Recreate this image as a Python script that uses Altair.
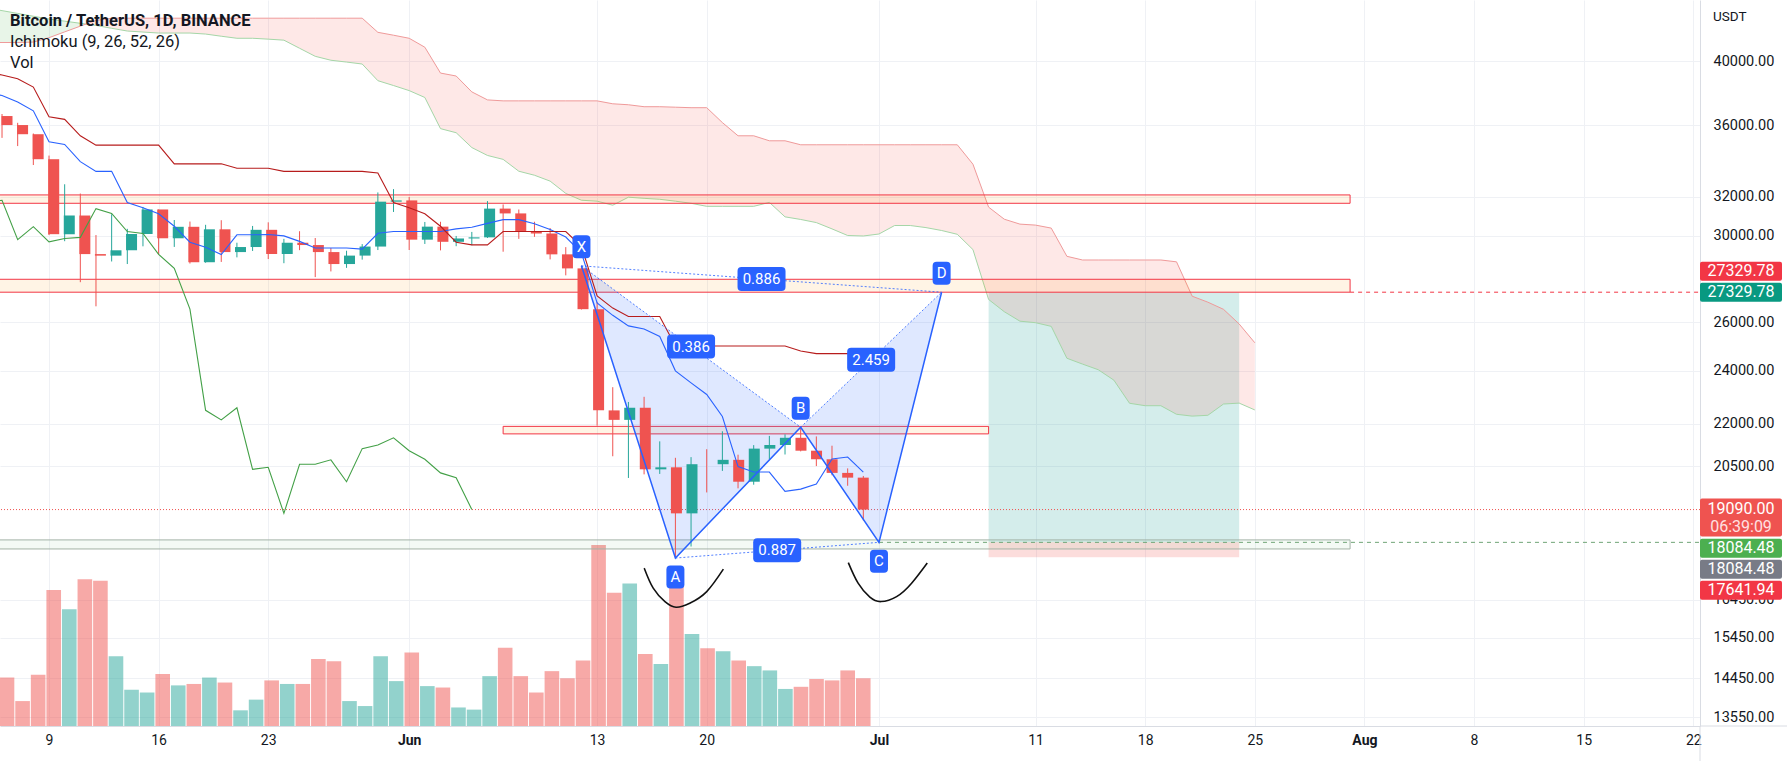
import altair as alt
import pandas as pd

FONT = "Roboto"
INK = "#131722"
UP, DOWN = "#26a69a", "#ef5350"
BLUE = "#2962ff"

# ------------------------------------------------------------------
# Values (BTC/USDT daily, Binance)
# ------------------------------------------------------------------
candle_days = pd.date_range("2022-05-06", "2022-06-30", freq="D")
opens = [36552.97, 36013.77, 35472.40, 34038.39, 30074.23, 31017.11, 29103.94, 29029.74,
         29287.05, 30086.74, 31328.89, 29874.01, 30444.93, 28715.33, 30319.22, 29201.01,
         29445.07, 30293.93, 29109.14, 29654.58, 29542.14, 29201.35, 28629.81, 29031.33,
         29468.10, 31734.23, 31801.05, 29805.84, 30452.63, 29700.21, 29864.03, 29919.20,
         31373.10, 31125.32, 30204.77, 30109.93, 29091.87, 28424.71, 26574.53, 22485.27,
         22136.42, 22583.72, 20400.60, 20468.81, 18970.79, 20574.00, 20573.90, 20723.51,
         19988.00, 21110.12, 21237.68, 21491.18, 21038.08, 20742.57, 20281.28, 20123.00]
highs = [36675.63, 36146.30, 35514.22, 34243.15, 32658.99, 32162.59, 30032.44, 31083.37,
         30343.27, 31460.00, 31328.90, 30788.37, 30709.99, 30545.18, 30777.33, 29656.18,
         30487.99, 30670.51, 29845.86, 30223.74, 29886.64, 29397.66, 29266.00, 29587.78,
         32222.00, 32399.00, 31982.97, 30689.00, 30699.00, 29988.88, 30189.00, 31765.64,
         31589.60, 31327.22, 30700.00, 30382.80, 29440.41, 28544.96, 26895.84, 23362.88,
         22800.00, 22995.73, 21365.43, 20792.06, 20815.95, 21090.00, 21723.00, 20900.00,
         21233.00, 21558.41, 21614.50, 21868.00, 21539.85, 21212.10, 20432.31, 20179.08]
lows = [35258.00, 34785.00, 33713.95, 30033.33, 29730.40, 27785.00, 26700.00, 28751.00,
        28630.00, 29480.00, 29087.04, 29450.38, 28654.47, 28691.38, 28730.00, 28947.28,
        29255.11, 28866.35, 28669.00, 29294.21, 28019.56, 28282.90, 28450.00, 28839.21,
        29299.62, 31200.01, 29301.00, 29594.55, 29282.36, 29485.00, 29531.42, 29890.23,
        29218.96, 29843.88, 29944.10, 28850.00, 28099.99, 26560.00, 21925.77, 20846.00,
        20111.62, 20232.00, 20246.66, 17622.00, 17960.41, 19637.03, 20348.40, 19770.51,
        19890.07, 20736.72, 20906.62, 21014.28, 20510.00, 20202.01, 19854.92, 18750.00]
closes = [36013.77, 35472.39, 34038.40, 30076.31, 31017.10, 29103.94, 29029.75, 29287.05,
          30086.74, 31328.89, 29874.01, 30444.93, 28715.32, 30319.23, 29201.01, 29445.06,
          30293.94, 29109.15, 29654.58, 29542.15, 29201.35, 28629.80, 29031.33, 29468.10,
          31734.22, 31801.04, 29805.83, 30452.62, 29700.21, 29864.04, 29919.21, 31373.10,
          31125.33, 30204.77, 30109.93, 29091.88, 28424.70, 26574.53, 22487.41, 22136.41,
          22583.72, 20401.31, 20468.81, 18970.79, 20574.00, 20573.89, 20723.52, 19987.99,
          21110.13, 21237.69, 21491.19, 21038.07, 20742.56, 20281.29, 20123.01, 19090.00]
volumes_k = [68, 35, 72, 191, 164, 206, 204, 98, 51, 47,
             73, 57, 59, 68, 61, 22, 37, 64, 59, 59,
             94, 91, 35, 28, 98, 63, 103, 56, 54, 26,
             23, 70, 110, 70, 47, 77, 67, 92, 254, 187,
             200, 101, 87, 213, 129, 109, 105, 92, 84, 78,
             52, 55, 66, 64, 78, 67]

# Ichimoku conversion / base lines, May 5 - Jun 30
line_days = pd.date_range("2022-05-05", "2022-06-30", freq="D")
tenkan = [37970, 37815, 37404, 36869, 35028, 34877, 33904, 33362, 33362, 31688,
          31423, 31107, 30472, 29680, 29432, 29080, 30045, 30045, 30057, 29991,
          29721, 29398, 29398, 29398, 29345, 30121, 30209, 30209, 30209, 30209,
          30341, 30424, 30619, 30809, 30809, 30601, 30308, 29933, 29163, 26846,
          26306, 25851, 25720, 25406, 24002, 23531, 23083, 22259, 20492, 20309,
          20309, 19672, 19745, 19914, 20752, 20819, 20309]
kijun = [39274, 39117, 38880, 38345, 36505, 36353, 35380, 34838, 34838, 34838,
         34838, 34838, 33780, 33780, 33780, 33780, 33536, 33536, 33536, 33362,
         33362, 33362, 33362, 33362, 33362, 33273, 31688, 31423, 31107, 30472,
         29680, 29550, 29550, 30209, 30209, 30209, 30209, 30209, 29480, 27162,
         26622, 26255, 26255, 26255, 25010, 25010, 25010, 25010, 25010, 25010,
         25010, 25010, 24802, 24694, 24694, 24694, 24694]

# Ichimoku leading spans (cloud), May 5 - Jul 25
span_days = pd.date_range("2022-05-05", "2022-07-25", freq="D")
span_a = [43700, 43500, 43300, 43100, 42900, 42750, 42600, 42450, 42250, 42060,
          41990, 41920, 41920, 41920, 41850, 41700, 41560, 41560, 41500, 41430,
          40880, 40340, 40080, 39960, 39830, 38750, 38440,
          38120, 37690, 35800, 35560, 34700, 34250, 34030, 33370, 33150, 32830,
          32170, 31810, 31760, 31550, 31970, 31910, 31860, 31760, 31650, 31490,
          31490, 31490, 31490, 31697, 30949, 30816, 30658, 30341, 30011, 29987,
          30085, 30509, 30509, 30405, 30259, 30071, 29322, 27004, 26464, 26053,
          25988, 25831, 24506, 24271, 24047, 23635, 22751, 22660, 22660, 22341,
          22274, 22304, 22723, 22757, 22502]
span_b = [41270, 41270, 41270, 41300, 41600, 42000, 42400, 42800, 42960, 42960,
          42960, 42960, 42960, 42960, 42960, 42960, 42960, 42960, 42960, 42960,
          42960, 42960, 42960, 42960, 42960, 41970, 41770,
          41560, 40950, 39240, 39050, 38040, 37540, 37480, 37480, 37480, 37480,
          37480, 37480, 37480, 37300, 37240, 37120, 37120, 37090, 37060, 37060,
          36160, 35380, 35380, 35090, 35090, 34860, 34860, 34860, 34860, 34860,
          34860, 34860, 34860, 34860, 34860, 34860, 33760, 31450, 30830, 30580,
          30530, 30380, 28997, 28822, 28822, 28822, 28822, 28822, 28822, 28734,
          27149, 26884, 26568, 25933, 25141]
cloud_cross = ("2022-05-11T08:44:00Z", 42545)   # where span A meets span B

# Support / resistance zones: (start, end, low, high)
red_zones = [("2022-05-01", "2022-07-31T02:00:00Z", 31650, 32090),
             ("2022-05-01", "2022-07-31T02:00:00Z", 27329.78, 27918),
             ("2022-06-07", "2022-07-08", 21630, 21900)]
grey_zone = [("2022-05-01", "2022-07-31T02:00:00Z", 17888, 18157)]

# Long position tool
pos_start, pos_end = "2022-07-08", "2022-07-24"
target_price, entry_price, stop_price = 27329.78, 18084.48, 17641.94
last_price = 19090.00

# XABCD harmonic pattern points
pattern_names = ["X", "A", "B", "C", "D"]
pattern_dates = ["2022-06-12", "2022-06-18", "2022-06-26", "2022-07-01", "2022-07-05"]
pattern_prices = [28545, 17622, 21868, 18084.48, 27329.78]
xab_upper_at_a = 25465      # X-B edge above A
bcd_upper_at_c = 24752      # B-D edge above C
ratio_texts = ["0.386", "0.887", "2.459", "0.886"]
ratio_dates = ["2022-06-19T00:00:00Z", "2022-06-24T12:00:00Z", "2022-06-30T12:00:00Z", "2022-06-23T12:00:00Z"]
ratio_prices = [24985, 17852, 24447, 27931]

# Hand-drawn smile arcs under A and C
arc_a_dates = ["2022-06-16T00:15:00Z", "2022-06-16T14:00:00Z", "2022-06-17T08:00:00Z", "2022-06-18T01:00:00Z",
               "2022-06-18T22:00:00Z", "2022-06-20T00:00:00Z", "2022-06-21T01:30:00Z"]
arc_a_prices = [17330, 16768, 16400, 16249, 16356, 16673, 17301]
arc_c_dates = ["2022-06-29T01:00:00Z", "2022-06-29T16:00:00Z", "2022-06-30T10:00:00Z", "2022-07-01T03:00:00Z",
               "2022-07-02T03:00:00Z", "2022-07-03T02:00:00Z", "2022-07-04T02:00:00Z"]
arc_c_prices = [17489, 16905, 16519, 16400, 16535, 16905, 17480]

# Axes
price_ticks = [40000, 36000, 32000, 30000, 26000, 24000, 22000, 20500, 16450, 15450, 14450, 13550]
date_ticks = [(5, 9), (5, 16), (5, 23), (6, 1), (6, 13), (6, 20), (7, 1), (7, 11),
              (7, 18), (7, 25), (8, 1), (8, 8), (8, 15), (8, 22)]
X_RANGE = ["2022-05-05T20:54:10Z", "2022-08-22T10:16:20Z"]
Y_RANGE = [13355, 44270]
VOL_MAX = 1019


# ------------------------------------------------------------------
def iso(d):
    return pd.Timestamp(d).strftime("%Y-%m-%dT%H:%M:%SZ")


def ms(d):
    t = pd.Timestamp(d)
    if t.tzinfo is None:
        t = t.tz_localize("UTC")
    return int(t.value // 10**6)


xs = alt.Scale(type="utc", domain=[ms(X_RANGE[0]), ms(X_RANGE[1])], nice=False)
ys = alt.Scale(type="log", domain=Y_RANGE, nice=False, zero=False)


def X(f="date"):
    return alt.X(f"{f}:T", scale=xs, axis=None)


def Y(f):
    return alt.Y(f"{f}:Q", scale=ys, axis=None)


dir_color = alt.Color("dir:N", scale=alt.Scale(domain=["up", "down"], range=[UP, DOWN]), legend=None)


def box_shape(w, h, r):
    k = 2.0 / w
    a, b, rr = 1.0, h * k / 2.0, r * k
    f = lambda v: f"{v:.4f}"
    return (f"M{f(-a+rr)},{f(-b)}L{f(a-rr)},{f(-b)}Q{f(a)},{f(-b)},{f(a)},{f(-b+rr)}"
            f"L{f(a)},{f(b-rr)}Q{f(a)},{f(b)},{f(a-rr)},{f(b)}"
            f"L{f(-a+rr)},{f(b)}Q{f(-a)},{f(b)},{f(-a)},{f(b-rr)}"
            f"L{f(-a)},{f(-b+rr)}Q{f(-a)},{f(-b)},{f(-a+rr)},{f(-b)}Z")


# ---------------- data frames ----------------
cdf = pd.DataFrame({"date": [iso(d) for d in candle_days], "o": opens, "h": highs,
                    "l": lows, "c": closes, "vol": volumes_k})
cdf["dir"] = ["up" if c >= o else "down" for o, c in zip(opens, closes)]

ldf = pd.DataFrame({"date": [iso(d) for d in line_days], "tenkan": tenkan, "kijun": kijun})
chik = pd.DataFrame({"date": [iso(d - pd.Timedelta(days=25)) for d in candle_days], "p": closes})

sdf = pd.DataFrame({"date": [iso(d) for d in span_days], "a": span_a, "b": span_b})
cross = pd.DataFrame({"date": [cloud_cross[0]], "a": [cloud_cross[1]], "b": [cloud_cross[1]]})
green_cloud = pd.concat([sdf[sdf["date"] < cloud_cross[0]], cross], ignore_index=True)
red_cloud = pd.concat([cross, sdf[sdf["date"] > cloud_cross[0]]], ignore_index=True)

zdf = pd.DataFrame([{"date": iso(s), "date2": iso(e), "p": lo, "p2": hi} for s, e, lo, hi in red_zones])
gzdf = pd.DataFrame([{"date": iso(s), "date2": iso(e), "p": lo, "p2": hi} for s, e, lo, hi in grey_zone])

pos_df = pd.DataFrame([
    {"date": iso(pos_start), "date2": iso(pos_end), "p": entry_price, "p2": target_price, "kind": "profit"},
    {"date": iso(pos_start), "date2": iso(pos_end), "p": stop_price, "p2": entry_price, "kind": "loss"},
])

P = {n: (iso(d), p) for n, d, p in zip(pattern_names, pattern_dates, pattern_prices)}
tri_df = pd.DataFrame([
    {"pat": "XAB", "date": P["X"][0], "p": P["X"][1], "p2": P["X"][1]},
    {"pat": "XAB", "date": P["A"][0], "p": P["A"][1], "p2": xab_upper_at_a},
    {"pat": "XAB", "date": P["B"][0], "p": P["B"][1], "p2": P["B"][1]},
    {"pat": "BCD", "date": P["B"][0], "p": P["B"][1], "p2": P["B"][1]},
    {"pat": "BCD", "date": P["C"][0], "p": P["C"][1], "p2": bcd_upper_at_c},
    {"pat": "BCD", "date": P["D"][0], "p": P["D"][1], "p2": P["D"][1]},
])
zig_df = pd.DataFrame([{"date": P[n][0], "p": P[n][1], "i": i} for i, n in enumerate(pattern_names)])
dot_rows = []
for seg in ["XB", "BD", "AC", "XD"]:
    for n in seg:
        dot_rows.append({"seg": seg, "date": P[n][0], "p": P[n][1]})
dot_df = pd.DataFrame(dot_rows)
ratio_df = pd.DataFrame({"date": ratio_dates, "p": ratio_prices, "t": ratio_texts})
above_df = pd.DataFrame([{"date": P[n][0], "p": P[n][1], "t": n} for n in ["X", "B", "D"]])
below_df = pd.DataFrame([{"date": P[n][0], "p": P[n][1], "t": n} for n in ["A", "C"]])

arc_df = pd.DataFrame(
    [{"arc": "A", "date": d, "p": p} for d, p in zip(arc_a_dates, arc_a_prices)]
    + [{"arc": "C", "date": d, "p": p} for d, p in zip(arc_c_dates, arc_c_prices)])

# ---------------- axes ----------------
x_axis = alt.Axis(
    values=[alt.DateTime(year=2022, month=m, date=d, utc=True) for m, d in date_ticks],
    labelExpr="utcdate(datum.value) == 1 ? utcFormat(datum.value, '%b') : utcFormat(datum.value, '%-d')",
    labelFontWeight={"condition": {"test": "utcdate(datum.value) == 1", "value": "bold"}, "value": "normal"},
    grid=True, gridColor="#eff1f5", gridWidth=1, domain=True, domainColor="#d9dce3",
    ticks=False, tickSize=0, labelFont=FONT, labelFontSize=14, labelColor=INK,
    labelPadding=7, labelOverlap=False, labelFlush=False, title=None)
y_axis = alt.Axis(
    orient="right", values=price_ticks, format=".2f", grid=True, gridColor="#eff1f5",
    gridWidth=1, domain=True, domainColor="#d9dce3", ticks=False, tickSize=0,
    labelFont=FONT, labelFontSize=14.5, labelColor=INK, labelPadding=13, labelAlign="left",
    labelOverlap=False, labelFlush=False, title=None)

# ---------------- layers ----------------
layers = []

# candle wicks carry both axes
axis_layer = alt.Chart(cdf).mark_rule(strokeWidth=1).encode(
    x=alt.X("date:T", scale=xs, axis=x_axis), y=alt.Y("l:Q", scale=ys, axis=y_axis),
    y2="h:Q", color=dir_color)

# volume
layers.append(alt.Chart(cdf).mark_bar(size=14.6, opacity=0.5).encode(
    x=X(), y=alt.Y("vol:Q", scale=alt.Scale(domain=[0, VOL_MAX], nice=False), axis=None),
    color=dir_color))

# long position box
layers.append(alt.Chart(pos_df).mark_rect(opacity=0.2).encode(
    x=X(), x2="date2:T", y=Y("p"), y2="p2:Q",
    color=alt.Color("kind:N", scale=alt.Scale(domain=["profit", "loss"], range=["#089981", "#f23645"]), legend=None)))

# ichimoku cloud
layers.append(alt.Chart(green_cloud).mark_area(color="#4caf50", opacity=0.13, clip=True).encode(
    x=X(), y=Y("a"), y2="b:Q"))
layers.append(alt.Chart(red_cloud).mark_area(color="#f44336", opacity=0.12, clip=True).encode(
    x=X(), y=Y("a"), y2="b:Q"))
layers.append(alt.Chart(sdf).mark_line(color="#a5d6a7", strokeWidth=1, clip=True).encode(x=X(), y=Y("a")))
layers.append(alt.Chart(sdf).mark_line(color="#ef9a9a", strokeWidth=1, clip=True).encode(x=X(), y=Y("b")))

# zones
layers.append(alt.Chart(zdf).mark_rect(fill="#ff9800", fillOpacity=0.1, stroke="#f23645",
                                       strokeWidth=1, clip=True).encode(
    x=X(), x2="date2:T", y=Y("p"), y2="p2:Q"))
layers.append(alt.Chart(gzdf).mark_rect(fill="#4caf50", fillOpacity=0.06, stroke="#a3b2a6",
                                        strokeWidth=1, clip=True).encode(
    x=X(), x2="date2:T", y=Y("p"), y2="p2:Q"))

# price lines
layers.append(alt.Chart(pd.DataFrame({"p": [last_price]})).mark_rule(
    color="#ef5350", strokeWidth=1, strokeDash=[1, 2]).encode(y=Y("p")))
layers.append(alt.Chart(pd.DataFrame({"date": [iso("2022-07-31T02:00:00Z")], "date2": [iso("2022-09-30")],
                                      "p": [target_price]})).mark_rule(
    color="#f23645", strokeWidth=1, strokeDash=[4, 4], clip=True).encode(x=X(), x2="date2:T", y=Y("p")))
layers.append(alt.Chart(pd.DataFrame({"date": [P["C"][0]], "date2": [iso("2022-09-30")],
                                      "p": [entry_price]})).mark_rule(
    color="#6fa476", strokeWidth=1, strokeDash=[4, 4], clip=True).encode(x=X(), x2="date2:T", y=Y("p")))

# harmonic fills
layers.append(alt.Chart(tri_df).mark_area(color=BLUE, opacity=0.15).encode(
    x=X(), y=Y("p"), y2="p2:Q", detail="pat:N"))

# candles
layers.append(axis_layer)
layers.append(alt.Chart(cdf).mark_bar(size=11).encode(
    x=X(), y=Y("o"), y2="c:Q", color=dir_color))

# ichimoku lines
layers.append(alt.Chart(ldf).mark_line(color="#2962ff", strokeWidth=1.1, clip=True).encode(x=X(), y=Y("tenkan")))
layers.append(alt.Chart(ldf).mark_line(color="#b71c1c", strokeWidth=1.1, clip=True).encode(x=X(), y=Y("kijun")))
layers.append(alt.Chart(chik).mark_line(color="#43a047", strokeWidth=1.1, clip=True).encode(x=X(), y=Y("p")))

# harmonic outline
layers.append(alt.Chart(zig_df).mark_line(color=BLUE, strokeWidth=1.5).encode(
    x=X(), y=Y("p"), order="i:Q"))
layers.append(alt.Chart(dot_df).mark_line(color=BLUE, strokeWidth=1, strokeDash=[2, 2], opacity=0.8).encode(
    x=X(), y=Y("p"), detail="seg:N"))

# arcs
layers.append(alt.Chart(arc_df).mark_line(color="#111111", strokeWidth=1.6, interpolate="natural").encode(
    x=X(), y=Y("p"), detail="arc:N"))

# pattern labels
layers.append(alt.Chart(ratio_df).mark_point(shape=box_shape(48, 24, 4), size=48 * 48, filled=True,
                                             color=BLUE, opacity=1).encode(x=X(), y=Y("p")))
layers.append(alt.Chart(ratio_df).mark_text(color="white", font=FONT, fontSize=15, align="center",
                                            baseline="middle").encode(x=X(), y=Y("p"), text="t:N"))
for df_, off in [(above_df, -19), (below_df, 19)]:
    layers.append(alt.Chart(df_).mark_point(shape=box_shape(18, 23, 4), size=18 * 18, filled=True,
                                            color=BLUE, opacity=1, yOffset=off).encode(x=X(), y=Y("p")))
    layers.append(alt.Chart(df_).mark_text(color="white", font=FONT, fontSize=15, align="center",
                                           baseline="middle", yOffset=off).encode(x=X(), y=Y("p"), text="t:N"))

# frame lines continuing under the price scale and the date scale
frame = pd.DataFrame({"k": [0]})
layers.append(alt.Chart(frame).mark_rule(color="#d9dce3", strokeWidth=1).encode(
    x=alt.value(1700), x2=alt.value(1787), y=alt.value(726)))
layers.append(alt.Chart(frame).mark_rule(color="#d9dce3", strokeWidth=1).encode(
    x=alt.value(1700), y=alt.value(726), y2=alt.value(761)))

# price tags on the right axis
axis_tags = [(target_price, "27329.78", "#f23645", -21),
             (target_price, "27329.78", "#089981", 0),
             (entry_price, "18084.48", "#4caf50", 6),
             (entry_price, "18084.48", "#787b86", 27),
             (stop_price, "17641.94", "#f23645", 33)]
TAG_X = 1741
TAG_FS = 16
for price, txt, col, off in axis_tags:
    tdf = pd.DataFrame({"p": [price], "t": [txt]})
    layers.append(alt.Chart(tdf).mark_point(shape=box_shape(82, 19, 2), size=82 * 82, filled=True,
                                            color=col, opacity=1, yOffset=off).encode(
        x=alt.value(TAG_X), y=Y("p")))
    layers.append(alt.Chart(tdf).mark_text(color="white", font=FONT, fontSize=TAG_FS, align="center",
                                           baseline="middle", yOffset=off).encode(
        x=alt.value(TAG_X), y=Y("p"), text="t:N"))
cur = pd.DataFrame({"p": [last_price], "t": ["19090.00"], "t2": ["06:39:09"]})
layers.append(alt.Chart(cur).mark_point(shape=box_shape(82, 38, 2), size=82 * 82, filled=True,
                                        color="#ef5350", opacity=1, yOffset=8).encode(x=alt.value(TAG_X), y=Y("p")))
layers.append(alt.Chart(cur).mark_text(color="white", font=FONT, fontSize=TAG_FS, align="center",
                                       baseline="middle", yOffset=-1).encode(x=alt.value(TAG_X), y=Y("p"), text="t:N"))
layers.append(alt.Chart(cur).mark_text(color="#ffe0e0", font=FONT, fontSize=TAG_FS, align="center",
                                       baseline="middle", yOffset=17).encode(x=alt.value(TAG_X), y=Y("p"), text="t2:N"))

# titles
for txt, yy, wt in [("Bitcoin / TetherUS, 1D, BINANCE", 21, "bold"),
                    ("Ichimoku (9, 26, 52, 26)", 42, "normal"),
                    ("Vol", 63, "normal")]:
    layers.append(alt.Chart(pd.DataFrame({"t": [txt]})).mark_text(
        font=FONT, fontSize=16.5, fontWeight=wt, color=INK, align="left", baseline="middle").encode(
        x=alt.value(10), y=alt.value(yy), text="t:N"))
layers.append(alt.Chart(pd.DataFrame({"t": ["USDT"]})).mark_text(
    font=FONT, fontSize=13.5, color=INK, align="left", baseline="middle").encode(
    x=alt.value(1713), y=alt.value(17), text="t:N"))

chart = (
    alt.layer(*layers)
    .resolve_scale(x="independent", y="independent")
    .properties(width=1700, height=726,
                padding={"left": 0, "top": 0, "right": 87, "bottom": 35},
                autosize=alt.AutoSizeParams(type="none"))
    .configure(background="#ffffff", font=FONT)
    .configure_view(stroke=None)
)

chart.save("out.html", embed_options={"renderer": "svg", "actions": False})
